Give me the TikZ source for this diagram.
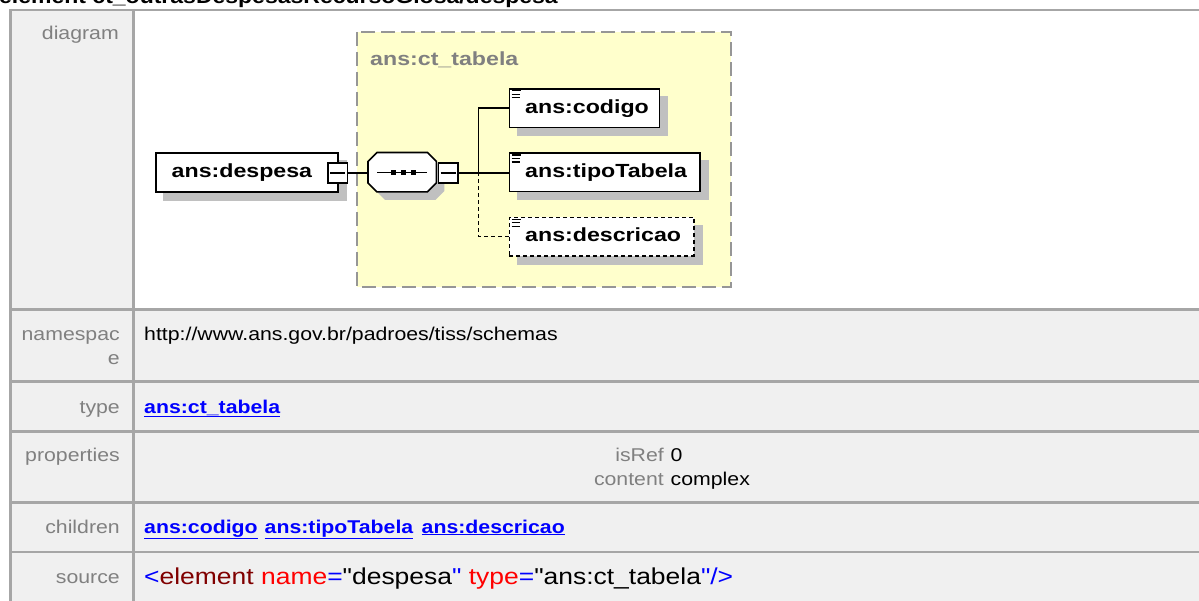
\documentclass[tikz,border=0pt]{standalone}
\usepackage{fontspec}
\setmainfont{Liberation Sans}
\newfontfamily\tblfont{Liberation Sans}[FakeStretch=1.15]
\newfontfamily\diafont{Liberation Sans}[FakeStretch=1.22]
\usetikzlibrary{calc}
\definecolor{cellbg}{RGB}{240,240,240}
\definecolor{rulec}{RGB}{166,166,166}
\definecolor{lblc}{RGB}{128,128,128}
\definecolor{yel}{RGB}{255,255,204}
\definecolor{shd}{RGB}{192,192,192}
\definecolor{frm}{RGB}{150,150,150}
\definecolor{lnk}{RGB}{0,0,255}
\definecolor{tagred}{RGB}{128,0,0}
\definecolor{attrred}{RGB}{255,0,0}
\tikzset{
  x=1pt, y=-1pt,
  tbl/.style={inner sep=0pt, font=\tblfont\fontsize{18.5}{20}\selectfont},
  lbl/.style={tbl, text=lblc, anchor=base east},
  val/.style={tbl, anchor=base west},
  link/.style={tbl, anchor=base west, text=lnk, font=\tblfont\bfseries\fontsize{18.5}{20}\selectfont},
  src/.style={inner sep=0pt, anchor=base west, font=\tblfont\fontsize{23}{25}\selectfont},
  dtext/.style={inner sep=0pt, anchor=base west, font=\diafont\bfseries\fontsize{19}{21}\selectfont},
  elem/.style={draw=black, fill=white, line width=1.6pt, inner sep=0pt, anchor=north west},
  optelem/.style={elem, dash pattern=on 4pt off 3pt},
  minusbox/.style={draw=black, fill=white, line width=1.6pt, inner sep=0pt, anchor=north west, minimum width=19.5pt, minimum height=19.5pt},
  conn/.style={line width=1.6pt},
  optconn/.style={conn, dash pattern=on 4pt off 3pt},
  rulel/.style={draw=rulec, line width=2.2pt},
}
\newcommand\xsdicon[1]{%
  \draw[line width=1.1pt] ($(#1.north west)+(3,2.5)$) -- ++(9,0)
    ($(#1.north west)+(3,6)$) -- ++(8,0)
    ($(#1.north west)+(3,9.5)$) -- ++(8,0);}
\newcommand\shadowbox[1]{%
  \fill[shd] ($(#1.north west)+(8,8)$) rectangle ($(#1.south east)+(8,8)$);}
\begin{document}
\begin{tikzpicture}
\useasboundingbox (0,0) rectangle (1199,601);
\clip (0,0) rectangle (1199,601);
\fill[white] (0,0) rectangle (1199,601);
% title (cut off at the top)
\node[inner sep=0pt, anchor=base west, font=\tblfont\bfseries\fontsize{20}{22}\selectfont] (title) at (-1,3.5) {element ct\_outrasDespesasRecursoGlosa/despesa};
% table
\fill[cellbg] (10,9) rectangle (1199,601);
\fill[white] (134.5,11) rectangle (1199,308.5);
\foreach \yy in {10,309.5,381.5,431.5,502.5,551.7} {\draw[rulel] (10,\yy) -- (1199,\yy);}
\draw[rulel] (10.5,9) -- (10.5,601);
\draw[rulel] (133.5,9) -- (133.5,601);
% labels
\node[lbl] (ldiag) at (119,40) {diagram};
\node[lbl] (lns1) at (120,341) {namespac};
\node[lbl] (lns2) at (120,365) {e};
\node[lbl] (ltype) at (120,413) {type};
\node[lbl] (lprop) at (120,461.5) {properties};
\node[lbl] (lchild) at (120,533) {children};
\node[lbl] (lsrc) at (120,583) {source};
% values
\node[val] (vns) at (144,341) {http://www.ans.gov.br/padroes/tiss/schemas};
\node[link] (vtype) at (144,413) {\underline{ans:ct\_tabela}};
\node[lbl] (pk1) at (664,461.5) {isRef};
\node[val] (pv1) at (670.5,461.5) {0};
\node[lbl] (pk2) at (664,485) {content};
\node[val] (pv2) at (670.5,485) {complex};
\node[link] (c1) at (144,533) {\underline{ans:codigo}};
\node[link] (c2) at (264.5,533) {\underline{ans:tipoTabela}};
\node[link] (c3) at (421.5,533) {\underline{ans:descricao}};
\node[src] (vsrc) at (144,584) {\textcolor{lnk}{<}\textcolor{tagred}{element} \textcolor{attrred}{name}\textcolor{lnk}{=}"despesa\textcolor{lnk}{"} \textcolor{attrred}{type}\textcolor{lnk}{=}"ans:ct\_tabela\textcolor{lnk}{"/>}};
% diagram: complex type frame
\draw[draw=frm, fill=yel, line width=2pt, dash pattern=on 14pt off 6pt] (357,32) rectangle (731,287);
\node[dtext, text=lblc] (ctname) at (370,66) {ans:ct\_tabela};
% element boxes
\path (155,152.5) node[elem, draw=none, fill=none, minimum width=182pt, minimum height=38.5pt] (despesa) {};
\path (508.6,88.3) node[elem, draw=none, fill=none, minimum width=150.2pt, minimum height=38.4pt] (codigo) {};
\path (508.6,152.5) node[elem, draw=none, fill=none, minimum width=190.4pt, minimum height=38.4pt] (tipo) {};
\path (508.6,216.7) node[elem, draw=none, fill=none, minimum width=184.4pt, minimum height=38.4pt] (desc) {};
\path (368,152.5) node[inner sep=0pt, anchor=north west, minimum width=68pt, minimum height=39pt] (seq) {};
\shadowbox{despesa}
\shadowbox{codigo}
\shadowbox{tipo}
\shadowbox{desc}
\fill[shd] ($(seq.north west)+(17,8)$) -- ($(seq.north east)+(-1,8)$) -- ($(seq.north east)+(8,17)$) -- ($(seq.south east)+(8,-1)$) -- ($(seq.south east)+(-1,8)$) -- ($(seq.south west)+(17,8)$) -- ($(seq.south west)+(8,-1)$) -- ($(seq.north west)+(8,17)$) -- cycle;
\path (155,152.5) node[elem, minimum width=182pt, minimum height=38.5pt] (despesaB) {};
\path (508.6,88.3) node[elem, minimum width=150.2pt, minimum height=38.4pt] (codigoB) {};
\path (508.6,152.5) node[elem, minimum width=190.4pt, minimum height=38.4pt] (tipoB) {};
\path (508.6,216.7) node[optelem, minimum width=184.4pt, minimum height=38.4pt] (descB) {};
\draw[line width=1.6pt, fill=white] ($(seq.north west)+(9,0)$) -- ($(seq.north east)+(-9,0)$) -- ($(seq.north east)+(0,9)$) -- ($(seq.south east)+(0,-9)$) -- ($(seq.south east)+(-9,0)$) -- ($(seq.south west)+(9,0)$) -- ($(seq.south west)+(0,-9)$) -- ($(seq.north west)+(0,9)$) -- cycle;
\draw[line width=1.6pt] ($(seq.west)+(9,0.5)$) -- ($(seq.east)+(-9,0.5)$);
\foreach \dx in {25,35,45} {\fill ($(seq.west)+(\dx,0.5)+(-2.5,-2.5)$) rectangle ++(5,5);}
% minus boxes
\path (327,162.5) node[minusbox] (dm) {};
\path (437.5,162.5) node[minusbox] (sm) {};
\draw[line width=1.5pt] ($(dm.west)+(3,0)$) -- ($(dm.east)+(-3,0)$);
\draw[line width=1.5pt] ($(sm.west)+(3,0)$) -- ($(sm.east)+(-3,0)$);
% texts
\node[dtext] (tdespesa) at (171.5,178) {ans:despesa};
\node[dtext] (tcodigo) at (525,114) {ans:codigo};
\node[dtext] (ttipo) at (525,178) {ans:tipoTabela};
\node[dtext] (tdesc) at (525,242) {ans:descricao};
\xsdicon{codigo}
\xsdicon{tipo}
\xsdicon{desc}
% connectors
\coordinate (jn) at (478.6,172.5);
\draw[conn] (dm.east) -- (seq.west |- dm.east);
\draw[conn] (sm.east) -- (tipo.west |- sm.east);
\draw[conn] (codigo.west) -| (jn);
\draw[optconn] (jn) |- (desc.west);
\end{tikzpicture}
\end{document}
